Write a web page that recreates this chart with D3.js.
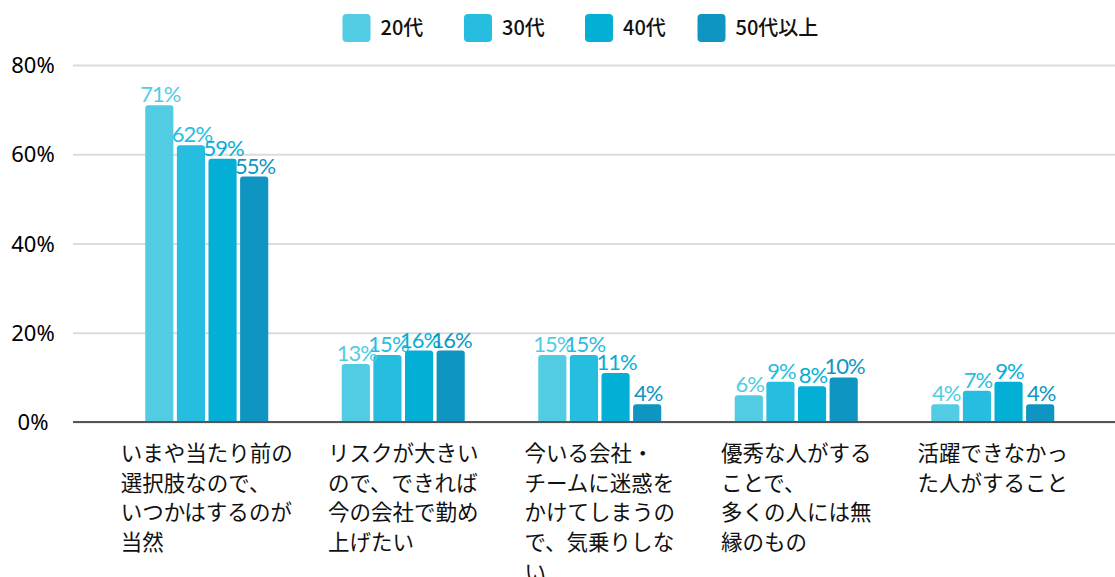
<!DOCTYPE html>
<html>
<head>
<meta charset="utf-8">
<script src="https://cdn.jsdelivr.net/npm/d3@7"></script>
<style>
  body { margin: 0; background: #fff; }
  svg { display: block; }
  .y-axis .domain { display: none; }
</style>
</head>
<body>
<svg id="chart"></svg>
<script>
// categories (x labels, already broken into lines as in the original)
const categories = ['c1', 'c2', 'c3', 'c4', 'c5'];
const categoryLines = [
    ['いまや当たり前の', '選択肢なので、', 'いつかはするのが', '当然'],
    ['リスクが大きい', 'ので、できれば', '今の会社で勤め', '上げたい'],
    ['今いる会社・', 'チームに迷惑を', 'かけてしまうの', 'で、気乗りしな', 'い'],
    ['優秀な人がする', 'ことで、', '多くの人には無', '縁のもの'],
    ['活躍できなかっ', 'た人がすること']
];
const seriesNames = ['20代', '30代', '40代', '50代以上'];
const seriesColors = ['#52cce3', '#26bde0', '#04afd5', '#0e95c2'];
const values20 = [71, 13, 15, 6, 4];
const values30 = [62, 15, 15, 9, 7];
const values40 = [59, 16, 11, 8, 9];
const values50 = [55, 16, 4, 10, 4];
const yTicks = [0, 20, 40, 60, 80];

const allValues = [values20, values30, values40, values50];

const W = 1115, H = 577;
const svg = d3.select('#chart').attr('width', W).attr('height', H);

const yScale = d3.scaleLinear().domain([0, 80]).range([422, 65]);
const x0 = d3.scaleBand().domain(categories).range([108.5, 1091]);
const bw = x0.bandwidth();
const x1 = d3.scaleBand().domain(seriesNames)
    .range([bw / 2 - 61.5, bw / 2 + 61.5])
    .paddingInner(0.11);

// grid + y axis
const yAxis = d3.axisLeft(yScale)
    .tickValues(yTicks)
    .tickSize(-(W - 73))
    .tickFormat(d => d + '%');

const yAxisG = svg.append('g')
    .attr('class', 'y-axis')
    .attr('transform', 'translate(73,0)')
    .call(yAxis);

yAxisG.selectAll('.tick line')
    .attr('stroke', '#dcdcdc')
    .attr('stroke-width', 2);
yAxisG.selectAll('.tick text')
    .attr('x', -40)
    .attr('text-anchor', 'middle')
    .attr('dy', '0.35em')
    .style('font-family', '"Noto Sans", sans-serif')
    .style('font-size', '22px')
    .attr('fill', '#000');

// rounded-top bar path
function barPath(x, y, w, h, r) {
    r = Math.min(r, h, w / 2);
    return `M${x},${y + h} L${x},${y + r} Q${x},${y} ${x + r},${y} L${x + w - r},${y} Q${x + w},${y} ${x + w},${y + r} L${x + w},${y + h} Z`;
}

const rows = categories.map((c, i) => ({
    cat: c,
    vals: seriesNames.map((s, j) => ({ series: s, j: j, value: allValues[j][i] }))
}));

const groups = svg.append('g').selectAll('g.group')
    .data(rows)
    .join('g')
    .attr('class', 'group')
    .attr('transform', d => `translate(${x0(d.cat)},0)`);

groups.selectAll('path.bar')
    .data(d => d.vals)
    .join('path')
    .attr('class', 'bar')
    .attr('fill', d => seriesColors[d.j])
    .attr('d', d => barPath(x1(d.series), yScale(d.value), x1.bandwidth(), yScale(0) - yScale(d.value), 3));

groups.selectAll('text.val')
    .data(d => d.vals)
    .join('text')
    .attr('class', 'val')
    .attr('x', d => x1(d.series) + x1.bandwidth() / 2 + 1)
    .attr('y', d => yScale(d.value) - 3)
    .attr('text-anchor', 'middle')
    .attr('fill', d => seriesColors[d.j])
    .style('font-family', 'Lato, sans-serif')
    .style('font-size', '22px')
    .style('letter-spacing', '-1px')
    .text(d => d.value + '%');

// zero line
svg.append('line')
    .attr('x1', 73).attr('x2', W)
    .attr('y1', yScale(0)).attr('y2', yScale(0))
    .attr('stroke', '#555')
    .attr('stroke-width', 2);

// x labels
const labelG = svg.append('g').selectAll('text.xl')
    .data(categories)
    .join('text')
    .attr('class', 'xl')
    .style('font-family', '"Noto Sans CJK JP", sans-serif')
    .style('font-size', '21.5px')
    .attr('fill', '#111');

labelG.each(function (c, i) {
    const t = d3.select(this);
    categoryLines[i].forEach((line, k) => {
        t.append('tspan').attr('y', 461 + k * 29.7).text(line);
    });
    let maxW = 0;
    t.selectAll('tspan').each(function () { maxW = Math.max(maxW, this.getComputedTextLength()); });
    const left = x0(c) + bw / 2 - maxW / 2;
    t.selectAll('tspan').attr('x', left);
});

// legend
const legendX = [342.5, 464, 585, 697.5];
const legend = svg.append('g').selectAll('g.leg')
    .data(seriesNames)
    .join('g')
    .attr('class', 'leg')
    .attr('transform', (d, i) => `translate(${legendX[i]},14)`);

legend.append('rect')
    .attr('width', 28).attr('height', 28)
    .attr('rx', 4)
    .attr('fill', (d, i) => seriesColors[i]);

legend.append('text')
    .attr('x', 38).attr('y', 14)
    .attr('dy', '0.35em')
    .style('font-family', '"Noto Sans CJK JP", sans-serif')
    .style('font-size', '20px')
    .style('font-weight', 500)
    .attr('fill', '#111')
    .text(d => d);
</script>
</body>
</html>
